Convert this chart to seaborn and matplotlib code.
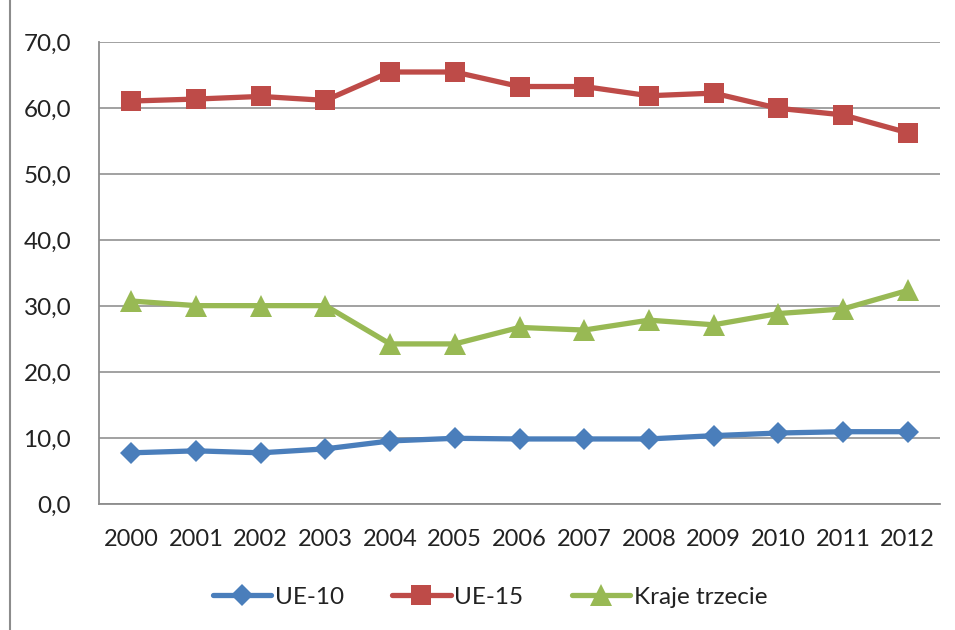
import numpy as np
import pandas as pd
import matplotlib.pyplot as plt
import seaborn as sns
from matplotlib.lines import Line2D
from matplotlib.ticker import FixedLocator, FuncFormatter

years = ["2000", "2001", "2002", "2003", "2004", "2005", "2006",
         "2007", "2008", "2009", "2010", "2011", "2012"]
ue10 = [7.8, 8.1, 7.8, 8.4, 9.6, 10.0, 9.9, 9.9, 9.9, 10.4, 10.8, 11.0, 11.0]
ue15 = [61.1, 61.4, 61.8, 61.2, 65.5, 65.5, 63.3, 63.3, 61.9, 62.3, 60.0, 59.0, 56.3]
kraje = [30.8, 30.1, 30.1, 30.1, 24.3, 24.3, 26.8, 26.4, 27.9, 27.2, 28.9, 29.6, 32.4]
series_names = ["UE-10", "UE-15", "Kraje trzecie"]

sns.set_style("white")
plt.rcParams['font.family'] = ['Lato', 'DejaVu Sans']

fig = plt.figure(figsize=(9.55, 6.3), dpi=100)
ax = fig.add_axes([99 / 955, 1 - 504.3 / 630, 841 / 955, 462 / 630])

styles = [
    (ue10, "#4a7ebb", "D", 11.5),
    (ue15, "#be4b48", "s", 15),
    (kraje, "#98b954", "^", 15.5),
]
for name, (vals, col, mk, ms) in zip(series_names, styles):
    df = pd.DataFrame({"rok": years, "val": vals})
    sns.lineplot(data=df, x="rok", y="val", ax=ax, color=col, lw=3.8,
                 marker=mk, markersize=ms, markeredgewidth=0, label=name,
                 sort=False)

ax.set_xlim(-0.5, 12.5)
ax.set_ylim(0, 70)
ax.set_yticks(np.arange(0, 71, 10))
ax.yaxis.set_major_formatter(FuncFormatter(lambda v, p: f"{v:.1f}".replace(".", ",")))
ax.xaxis.set_minor_locator(FixedLocator(np.arange(-0.5, 13, 1)))
ax.tick_params(axis="x", which="major", length=0, pad=18, labelsize=17, labelcolor="#222222")
ax.tick_params(axis="x", which="minor", length=7, width=1.3, color="#8c8c8c", direction="out")
ax.tick_params(axis="y", length=8, width=1.3, color="#8c8c8c", direction="out", pad=12,
               labelsize=17.5, labelcolor="#222222")
ax.set_xlabel("")
ax.set_ylabel("")
ax.grid(axis="y", color="#9a9a9a", lw=1.3)
ax.set_axisbelow(True)
for s in ["top", "right"]:
    ax.spines[s].set_visible(False)
for s in ["left", "bottom"]:
    ax.spines[s].set_color("#8c8c8c")
    ax.spines[s].set_linewidth(1.3)

ax.get_legend().remove()
handles, labels = ax.get_legend_handles_labels()
fig.legend(handles, labels, loc="center", bbox_to_anchor=(490 / 955, 1 - 597 / 630),
           ncol=3, frameon=False, fontsize=17.5, handlelength=2.4, columnspacing=2.0,
           handletextpad=0.15, labelcolor="#222222")

fig.add_artist(Line2D([10 / 955, 10 / 955], [0, 1], transform=fig.transFigure,
                      color="#8c8c8c", lw=1.5))

fig.savefig("out.png", dpi=100)
